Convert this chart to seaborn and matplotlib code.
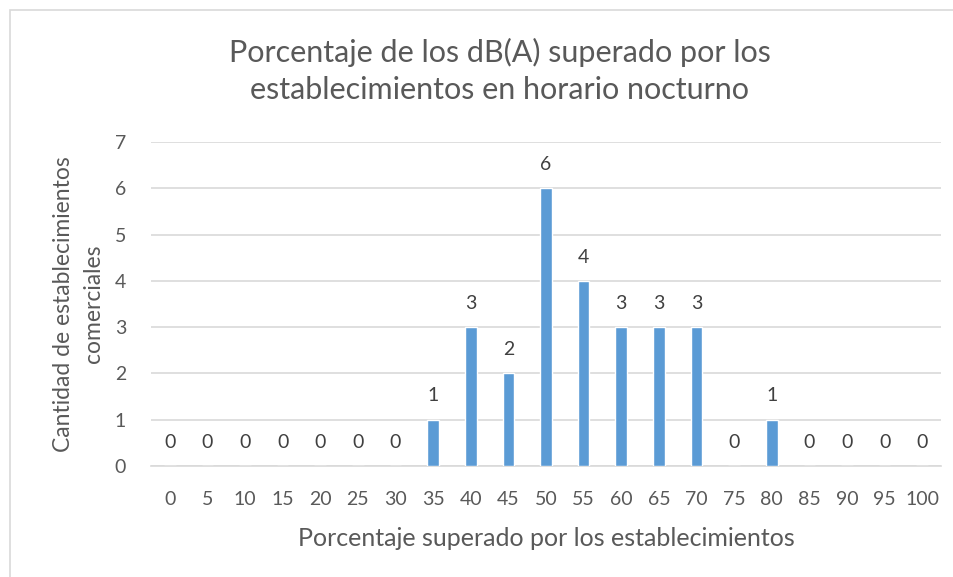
import matplotlib
matplotlib.use('Agg')
import matplotlib.pyplot as plt
import seaborn as sns
import pandas as pd
from matplotlib.patches import Rectangle

# Datos del gráfico
porcentajes = [0, 5, 10, 15, 20, 25, 30, 35, 40, 45, 50, 55, 60, 65, 70, 75, 80, 85, 90, 95, 100]
cantidades = [0, 0, 0, 0, 0, 0, 0, 1, 3, 2, 6, 4, 3, 3, 3, 0, 1, 0, 0, 0, 0]

titulo = 'Porcentaje de los dB(A) superado por los\nestablecimientos en horario nocturno'
etiqueta_x = 'Porcentaje superado por los establecimientos'
etiqueta_y = 'Cantidad de establecimientos\ncomerciales'

df = pd.DataFrame({'porcentaje': [str(p) for p in porcentajes], 'cantidad': cantidades})

sns.set_style('white')
plt.rcParams['font.family'] = ['Lato', 'DejaVu Sans']

gris = '#595959'
fig = plt.figure(figsize=(9.54, 5.77), dpi=100)
ax = fig.add_axes([151 / 954, 1 - 466 / 577, (941 - 151) / 954, (466 - 142) / 577])

sns.barplot(data=df, x='porcentaje', y='cantidad', color='#5B9BD5', width=0.31,
            saturation=1, ax=ax, zorder=3)

ax.set_ylim(0, 7)
ax.set_yticks(range(0, 8))
ax.set_xlim(-0.5, len(porcentajes) - 0.5)
ax.grid(axis='y', color='#D9D9D9', linewidth=1.2, zorder=0)
ax.grid(axis='x', visible=False)
for lado in ['top', 'right', 'left']:
    ax.spines[lado].set_visible(False)
ax.spines['bottom'].set_color('#D9D9D9')
ax.spines['bottom'].set_linewidth(1.2)
ax.tick_params(axis='both', length=0, labelsize=14, labelcolor=gris)
ax.tick_params(axis='x', pad=18)
ax.tick_params(axis='y', pad=18)

# Etiquetas de datos
for i, v in enumerate(cantidades):
    ax.text(i, v + 0.33, str(v), ha='center', va='bottom', fontsize=14, color='#404040')

ax.set_xlabel(etiqueta_x, fontsize=18, color=gris, labelpad=14)
ax.set_ylabel(etiqueta_y, fontsize=16.5, color=gris, labelpad=8, linespacing=1.5)

fig.text(500 / 954, 1 - 71 / 577, titulo, ha='center', va='center', fontsize=22,
         color=gris, linespacing=1.42)

# Borde del área del gráfico
fig.patches.append(Rectangle((10 / 954, -0.1), 1.2, 1 - 10 / 577 + 0.1,
                             transform=fig.transFigure, fill=False,
                             edgecolor='#D9D9D9', linewidth=1.2))

plt.savefig('out.png', dpi=100)
